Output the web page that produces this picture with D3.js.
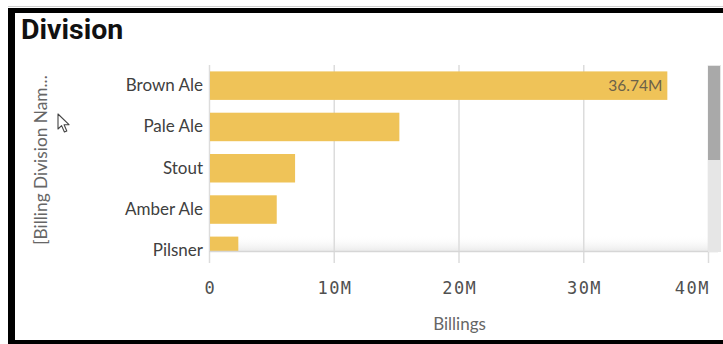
<!DOCTYPE html>
<html>
<head>
<meta charset="utf-8">
<script src="https://cdn.jsdelivr.net/npm/d3@7"></script>
<style>
  html, body { margin: 0; padding: 0; background: #fff; }
  svg { display: block; }
</style>
</head>
<body>
<svg id="chart" width="723" height="344"></svg>
<script>
// Billings by division (millions)
const divisions = ["Brown Ale", "Pale Ale", "Stout", "Amber Ale", "Pilsner"];
const billings = [36.74, 15.26, 6.9, 5.43, 2.35];
const xTicks = [0, 10, 20, 30, 40];
const labelledDivision = "Brown Ale";

const svg = d3.select("#chart");
const W = 723, H = 344;

const plot = { left: 209, right: 708, top: 65, bottom: 251 };

const x = d3.scaleLinear().domain([0, 40]).range([plot.left, plot.right]);
const y = d3.scaleBand()
  .domain(divisions)
  .range([plot.top, plot.top + 5 * 41.3])
  .paddingInner(0.31)
  .paddingOuter(0.155);

const fmtTick = d => d === 0 ? "0" : d + "M";

// Frame
svg.append("rect").attr("x", 8).attr("y", 6).attr("width", W - 8).attr("height", 1).attr("fill", "#d0d0d0");
svg.append("rect").attr("x", 8).attr("y", 8).attr("width", W - 8).attr("height", 5).attr("fill", "#000");
svg.append("rect").attr("x", 8).attr("y", 8).attr("width", 7).attr("height", H - 8).attr("fill", "#000");
svg.append("rect").attr("x", 8).attr("y", 340).attr("width", W - 8).attr("height", 4).attr("fill", "#000");

// Title
svg.append("text")
  .attr("x", 21).attr("y", 39)
  .attr("font-family", "Roboto, 'Open Sans', sans-serif")
  .attr("font-weight", 700)
  .attr("font-size", 28.5)
  .attr("fill", "#111")
  .text("Division");

const defs = svg.append("defs");
defs.append("clipPath").attr("id", "plotClip")
  .append("rect").attr("x", plot.left).attr("y", plot.top)
  .attr("width", plot.right - plot.left + 10).attr("height", plot.bottom - plot.top);

const fade = defs.append("linearGradient").attr("id", "scrollFade")
  .attr("x1", 0).attr("y1", 0).attr("x2", 0).attr("y2", 1);
fade.append("stop").attr("offset", 0).attr("stop-color", "#ffffff").attr("stop-opacity", 0);
fade.append("stop").attr("offset", 1).attr("stop-color", "#ebebeb").attr("stop-opacity", 1);

// Scroll shadow along the bottom of the plot (behind the bars)
svg.append("rect")
  .attr("x", plot.left).attr("y", plot.bottom - 16)
  .attr("width", plot.right - plot.left).attr("height", 16)
  .attr("fill", "url(#scrollFade)");

// Gridlines (with tick extension below the plot)
const grid = svg.append("g");
grid.selectAll("line").data(xTicks).join("line")
  .attr("x1", d => x(d) + 0.5).attr("x2", d => x(d) + 0.5)
  .attr("y1", plot.top).attr("y2", 263)
  .attr("stroke", "#dcdcdc").attr("stroke-width", 1.5);

// Bars, clipped to the scrollable plot area
const bars = svg.append("g").attr("clip-path", "url(#plotClip)");
bars.selectAll("rect").data(divisions).join("rect")
  .attr("x", x(0) + 1)
  .attr("y", d => y(d))
  .attr("width", (d, i) => x(billings[i]) - x(0) - 1)
  .attr("height", y.bandwidth())
  .attr("fill", "#efc358");

svg.append("line")
  .attr("x1", plot.left).attr("x2", 718)
  .attr("y1", plot.bottom + 0.5).attr("y2", plot.bottom + 0.5)
  .attr("stroke", "#d6d6d6").attr("stroke-width", 1.5);

// Value label inside the first bar
const li = divisions.indexOf(labelledDivision);
svg.append("text")
  .attr("x", x(billings[li]) - 5)
  .attr("y", y(labelledDivision) + y.bandwidth() / 2)
  .attr("dy", "0.35em")
  .attr("text-anchor", "end")
  .attr("font-family", "Lato, 'Open Sans', sans-serif")
  .attr("font-size", 15.5)
  .attr("fill", "#6b6149")
  .text(billings[li].toFixed(2) + "M");

// Category axis
const yAxis = svg.append("g").attr("transform", `translate(${plot.left - 6},0)`)
  .call(d3.axisLeft(y).tickSize(0).tickPadding(0));
yAxis.select(".domain").remove();
yAxis.selectAll("text")
  .attr("font-family", "Lato, 'Open Sans', sans-serif")
  .attr("font-size", 17)
  .attr("fill", "#404040");

// Value axis
const xAxis = svg.append("g").attr("transform", `translate(0,${plot.bottom})`)
  .call(d3.axisBottom(x).tickValues(xTicks).tickFormat(fmtTick).tickSize(0).tickPadding(0));
xAxis.select(".domain").remove();
xAxis.selectAll("text")
  .attr("y", 43)
  .attr("dy", 0)
  .attr("font-family", "'DejaVu Sans Mono', monospace")
  .attr("font-size", 17)
  .attr("letter-spacing", 1.5)
  .attr("fill", "#505050")
  .attr("text-anchor", (d, i) => i === xTicks.length - 1 ? "end" : "middle")
  .attr("dx", (d, i) => i === xTicks.length - 1 ? 1.5 : 0.75);

// Axis titles
svg.append("text")
  .attr("x", (plot.left + plot.right) / 2 + 1).attr("y", 330)
  .attr("text-anchor", "middle")
  .attr("font-family", "Lato, 'Open Sans', sans-serif")
  .attr("font-size", 17)
  .attr("fill", "#666")
  .text("Billings");

svg.append("text")
  .attr("transform", "translate(47,160) rotate(-90)")
  .attr("text-anchor", "middle")
  .attr("font-family", "Lato, 'Open Sans', sans-serif")
  .attr("font-size", 17.3)
  .attr("fill", "#666")
  .text("[Billing Division Nam...");

// Scrollbar
svg.append("rect").attr("x", 708).attr("y", plot.top).attr("width", 13).attr("height", plot.bottom - plot.top + 1).attr("fill", "#e6e6e6");
svg.append("rect").attr("x", 708).attr("y", plot.top + 1).attr("width", 12).attr("height", 94).attr("fill", "#a9a9a9");

// Mouse pointer
svg.append("path")
  .attr("transform", "translate(58,114)")
  .attr("d", "M0,0 L0,15 L3.6,11.6 L6.4,18 L8.8,17 L6.1,10.7 L11,10.7 Z")
  .attr("fill", "#fff")
  .attr("stroke", "#444")
  .attr("stroke-width", 1.1)
  .attr("stroke-linejoin", "round");
</script>
</body>
</html>
